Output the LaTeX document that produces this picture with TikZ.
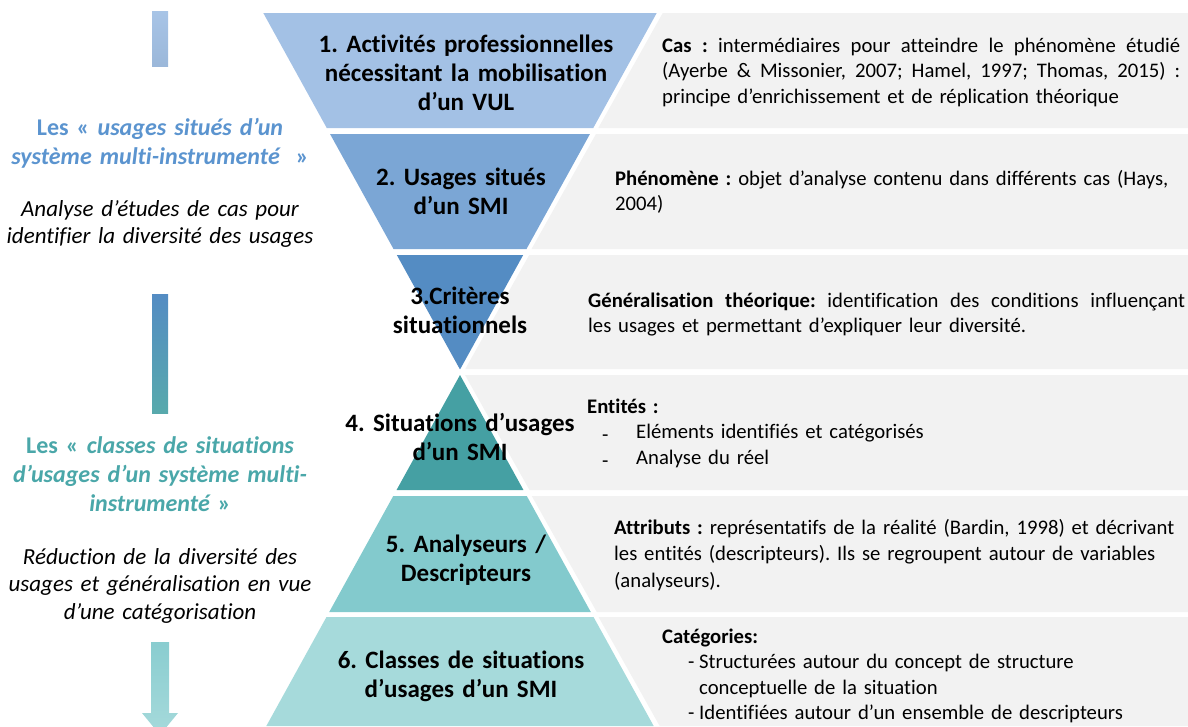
\documentclass[tikz,border=0pt]{standalone}
\usepackage{fontspec}
\setmainfont{Carlito}[Ligatures=NoCommon]
\usetikzlibrary{calc}
\definecolor{bandA}{HTML}{A3C1E5}
\definecolor{bandB}{HTML}{7BA6D5}
\definecolor{bandC}{HTML}{548CC3}
\definecolor{bandD}{HTML}{45A0A3}
\definecolor{bandE}{HTML}{83CACD}
\definecolor{bandF}{HTML}{A6DADB}
\definecolor{boxgray}{HTML}{F2F2F2}
\definecolor{sideblue}{HTML}{5B94CF}
\definecolor{sideteal}{HTML}{4AA7A9}
\frenchspacing
\newcommand{\fulline}[2]{{\spaceskip=0pt\xspaceskip=0pt\makebox[#1][s]{#2}}}

\begin{document}
\begin{tikzpicture}
[x=1pt,y=-1pt,
title/.style = {font=\bfseries\fontsize{25}{29}\selectfont, align=center, text width=300pt, inner sep=0pt, anchor=base},
info/.style = {font=\fontsize{20.7}{25.5}\selectfont, align=left, inner sep=0pt, anchor=base west},
side/.style = {font=\itshape\fontsize{23}{27.5}\selectfont, align=center, text width=330pt, inner sep=0pt, anchor=base},
sidehead/.style = {side, font=\bfseries\itshape\fontsize{24}{29}\selectfont}]
\useasboundingbox (0,0) rectangle (1188,726);
\def\k{0.5518}

% upper half: grey box and inverted triangle band
\foreach \yt/\yb/\col in {13/128/bandA, 134/249/bandB, 255/369/bandC}{
  \fill[boxgray] ({460+\k*(369.5-\yt)+6},\yt) -- (1188,\yt) -- (1188,\yb) -- ({460+\k*(369.5-\yb)+5},\yb) -- cycle;
  \fill[\col] ({460-\k*(369.5-\yt)},\yt) -- ({460+\k*(369.5-\yt)},\yt) -- ({460+\k*(369.5-\yb)},\yb) -- ({460-\k*(369.5-\yb)},\yb) -- cycle;
}
% lower half: grey box and pyramid band
\foreach \yt/\yb/\col in {375/490/bandD, 496/612/bandE, 617/726/bandF}{
  \fill[boxgray] ({460+\k*(\yt-375)+5},\yt) -- (1188,\yt) -- (1188,\yb) -- ({460+\k*(\yb-375)+6},\yb) -- cycle;
  \fill[\col] ({460-\k*(\yt-375)},\yt) -- ({460+\k*(\yt-375)},\yt) -- ({460+\k*(\yb-375)},\yb) -- ({460-\k*(\yb-375)},\yb) -- cycle;
}

% left bars
\shade[top color=bandA!95!white, bottom color=bandA!95!black] (152,11) rectangle (168,66);
\shade[top color=bandC, bottom color=bandD!90!white] (152,294) rectangle (168,413);
\begin{scope}
\clip (0,0) rectangle (1188,726);
\shade[top color=bandE!95!white, bottom color=bandF] (151,642) -- (169,642) -- (169,713) -- (178,713) -- (160,735) -- (142,713) -- (151,713) -- cycle;
\end{scope}

% left texts
\node[sidehead, text=sideblue] (usg) at (160,135) {{\upshape Les «} usages situés d’un\\système multi-instrumenté~ {\upshape»}};
\node[side] (ana) at (160,216) {Analyse d’études de cas pour\\identifier la diversité des usages};
\node[sidehead, text=sideteal] (cls) at (160,453) {{\upshape Les «} classes de situations\\d’usages d’un système multi-\\instrumenté {\upshape»}};
\node[side] (red) at (160,564) {Réduction de la diversité des\\usages et généralisation en vue\\d’une catégorisation};

% band titles
\node[title] (t1) at (466,52) {1. Activités professionnelles\\nécessitant la mobilisation\\d’un VUL};
\node[title] (t2) at (461,185) {2. Usages situés\\d’un SMI};
\node[title] (t3) at (460,304) {3.Critères\\situationnels};
\node[title] (t4) at (460,431) {4. Situations d’usages\\d’un SMI};
\node[title] (t5) at (466,552) {5. Analyseurs /\\Descripteurs};
\node[title] (t6) at (461,668) {6. Classes de situations\\d’usages d’un SMI};

% right texts
\node[info, text width=518pt] (cas) at (662,52) {\fulline{518pt}{\textbf{Cas :} intermédiaires pour atteindre le phénomène étudié}\\\fulline{518pt}{(Ayerbe \& Missonier, 2007; Hamel, 1997; Thomas, 2015) :}\\principe d’enrichissement et de réplication théorique};
\node[info, text width=570pt] (phe) at (615,185) {\textbf{Phénomène :} objet d’analyse contenu dans différents cas (Hays,\\2004)};
\node[info, text width=597pt] (gen) at (588,307) {\fulline{597pt}{\textbf{Généralisation théorique:} identification des conditions influençant}\\les usages et permettant d’expliquer leur diversité.};
\node[info, text width=400pt] (ent) at (587,413) {\textbf{Entités :}\\\hspace*{15pt}\makebox[34pt][l]{\raisebox{-3pt}{-}}Eléments identifiés et catégorisés\\\hspace*{15pt}\makebox[34pt][l]{\raisebox{-3pt}{-}}Analyse du réel};
\node[info, text width=572pt, font=\fontsize{20.7}{26.5}\selectfont] (att) at (614,534) {\textbf{Attributs :} représentatifs de la réalité (Bardin, 1998) et décrivant\\les entités (descripteurs). Ils se regroupent autour de variables\\(analyseurs).};
\node[info, text width=520pt] (cat) at (662,643) {\textbf{Catégories:}\\\hspace*{26pt}\makebox[11pt][l]{-}Structurées autour du concept de structure\\\hspace*{37pt}conceptuelle de la situation\\\hspace*{26pt}\makebox[11pt][l]{-}Identifiées autour d’un ensemble de descripteurs};

\end{tikzpicture}
\end{document}
